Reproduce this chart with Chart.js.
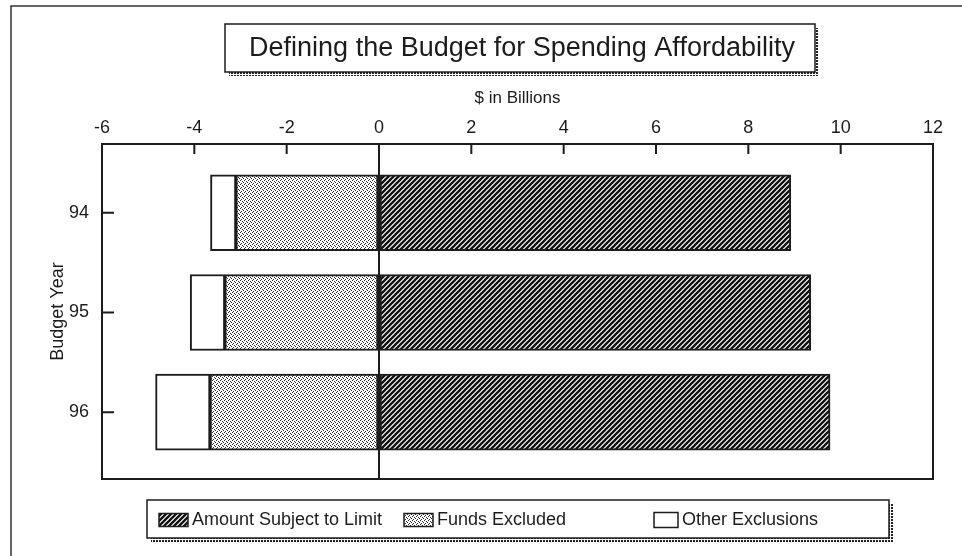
<!DOCTYPE html>
<html>
<head>
<meta charset="utf-8">
<title>Defining the Budget for Spending Affordability</title>
<script src="https://cdn.jsdelivr.net/npm/chart.js@4/dist/chart.umd.min.js"></script>
<style>
  html, body { margin: 0; padding: 0; background: #fff; }
  #wrap { width: 962px; height: 556px; position: relative; }
</style>
</head>
<body>
<div id="wrap"><canvas id="budgetChart" width="962" height="556"></canvas></div>
<script>
// $ in billions, per budget year (exclusions are plotted to the left of zero)
const budgetYears = [94, 95, 96];
const amountSubjectToLimit = [8.92, 9.35, 9.77];
const fundsExcluded = [-3.10, -3.34, -3.66];
const otherExclusions = [-0.55, -0.75, -1.18];
const xTickValues = [-6, -4, -2, 0, 2, 4, 6, 8, 10, 12];
const seriesNames = ['Amount Subject to Limit', 'Funds Excluded', 'Other Exclusions'];

const FONT = '"Liberation Sans", Arial, sans-serif';
const INK = '#1c1c1c';

const canvas = document.getElementById('budgetChart');
const ctx = canvas.getContext('2d');

const makePattern = (size, draw) => {
  const c = document.createElement('canvas');
  c.width = c.height = size;
  const g = c.getContext('2d');
  g.fillStyle = '#fff';
  g.fillRect(0, 0, size, size);
  draw(g, size);
  return ctx.createPattern(c, 'repeat');
};

// dense "////" hatching
const hatch = makePattern(5, (g, s) => {
  g.strokeStyle = '#111';
  g.lineWidth = 2.3;
  g.beginPath();
  g.moveTo(-1, s + 1); g.lineTo(s + 1, -1);
  g.moveTo(-1, 1); g.lineTo(1, -1);
  g.moveTo(s - 1, s + 1); g.lineTo(s + 1, s - 1);
  g.stroke();
});

// light stipple
const stipple = makePattern(4, (g) => {
  g.fillStyle = '#2a2a2a';
  [[0, 0], [2, 1], [1, 3], [3, 2]].forEach(([x, y]) => g.fillRect(x, y, 1, 1));
});

// checkered drop shadow for the title and legend boxes
const shadowDots = makePattern(3, (g) => {
  g.fillStyle = '#222';
  g.fillRect(0, 0, 2, 2);
});

const toPoints = vals => budgetYears.map((y, i) => ({ x: vals[i], y }));

const drawBox = (c, x, y, w, h) => {
  c.fillStyle = shadowDots;
  c.fillRect(x + 4, y + h, w, 4);
  c.fillRect(x + w, y + 4, 4, h);
  c.fillStyle = '#fff';
  c.fillRect(x, y, w, h);
  c.strokeStyle = INK;
  c.lineWidth = 1.5;
  c.strokeRect(x, y, w, h);
};

const chartDecor = {
  id: 'chartDecor',
  afterDatasetsDraw(chart) {
    const c = chart.ctx;
    const { left, right, top, bottom } = chart.chartArea;
    c.save();
    c.strokeStyle = INK;
    c.lineWidth = 2;
    c.strokeRect(left, top, right - left, bottom - top);
    // tick marks point inward
    c.beginPath();
    chart.scales.x.ticks.forEach(t => {
      const px = chart.scales.x.getPixelForValue(t.value);
      if (px <= left + 1 || px >= right - 1) return;
      c.moveTo(px, top); c.lineTo(px, top + 10);
    });
    chart.scales.y.ticks.forEach(t => {
      const py = chart.scales.y.getPixelForValue(t.value);
      c.moveTo(left, py); c.lineTo(left + 12, py);
    });
    c.stroke();
    c.restore();
  },
  afterDraw(chart) {
    const c = chart.ctx;
    c.save();
    // page frame
    c.strokeStyle = '#333';
    c.lineWidth = 1.5;
    c.beginPath();
    c.moveTo(11, 556); c.lineTo(11, 6); c.lineTo(962, 6);
    c.stroke();

    // title
    drawBox(c, 225, 24, 590, 48);
    c.fillStyle = INK;
    c.font = `27px ${FONT}`;
    c.textAlign = 'center';
    c.textBaseline = 'middle';
    c.fillText('Defining the Budget for Spending Affordability', 522, 49);

    // legend
    drawBox(c, 147, 500, 742, 38);
    const items = [
      { sx: 159, sw: 29, tx: 192 },
      { sx: 404, sw: 29, tx: 437 },
      { sx: 654, sw: 24, tx: 682 }
    ];
    c.font = `18px ${FONT}`;
    c.textAlign = 'left';
    items.forEach((it, i) => {
      const ds = chart.data.datasets[i];
      const h = i === 2 ? 15 : 13;
      c.fillStyle = ds.backgroundColor;
      c.fillRect(it.sx, 520 - h / 2, it.sw, h);
      c.strokeStyle = INK;
      c.lineWidth = 1.5;
      c.strokeRect(it.sx, 520 - h / 2, it.sw, h);
      c.fillStyle = INK;
      c.fillText(ds.label, it.tx, 520);
    });
    c.restore();
  }
};

const tickFont = { family: FONT, size: 18 };

new Chart(ctx, {
  type: 'bar',
  data: {
    datasets: [
      { label: seriesNames[0], data: toPoints(amountSubjectToLimit), backgroundColor: hatch },
      { label: seriesNames[1], data: toPoints(fundsExcluded), backgroundColor: stipple },
      { label: seriesNames[2], data: toPoints(otherExclusions), backgroundColor: '#fff' }
    ]
  },
  options: {
    indexAxis: 'y',
    responsive: false,
    animation: false,
    events: [],
    layout: { padding: { left: 0, top: 0, right: 29, bottom: 77 } },
    datasets: {
      bar: { barThickness: 76, borderColor: INK, borderWidth: 2, borderSkipped: false }
    },
    scales: {
      x: {
        type: 'linear',
        position: 'top',
        stacked: true,
        min: -6,
        max: 12,
        afterBuildTicks: s => { s.ticks = xTickValues.map(v => ({ value: v })); },
        afterFit: s => { s.height = 144; },
        grid: {
          drawTicks: false,
          lineWidth: 2,
          color: c => (c.tick && c.tick.value === 0 ? INK : 'rgba(0,0,0,0)')
        },
        border: { display: false },
        ticks: { padding: 5, color: INK, font: tickFont },
        title: {
          display: true,
          text: '$ in Billions',
          color: INK,
          font: { family: FONT, size: 17 },
          padding: { top: 88, bottom: 0 }
        }
      },
      y: {
        type: 'linear',
        reverse: true,
        stacked: true,
        offset: false,
        min: 93.31,
        max: 96.67,
        afterBuildTicks: s => { s.ticks = budgetYears.map(v => ({ value: v })); },
        afterFit: s => { s.width = 102; },
        grid: { display: false, drawTicks: false, offset: false },
        border: { display: false },
        ticks: { padding: 13, color: INK, font: tickFont },
        title: {
          display: true,
          text: 'Budget Year',
          color: INK,
          font: { family: FONT, size: 18 },
          padding: { top: 47, bottom: 0 }
        }
      }
    },
    plugins: {
      legend: { display: false },
      title: { display: false },
      tooltip: { enabled: false }
    }
  },
  plugins: [chartDecor]
});
</script>
</body>
</html>
